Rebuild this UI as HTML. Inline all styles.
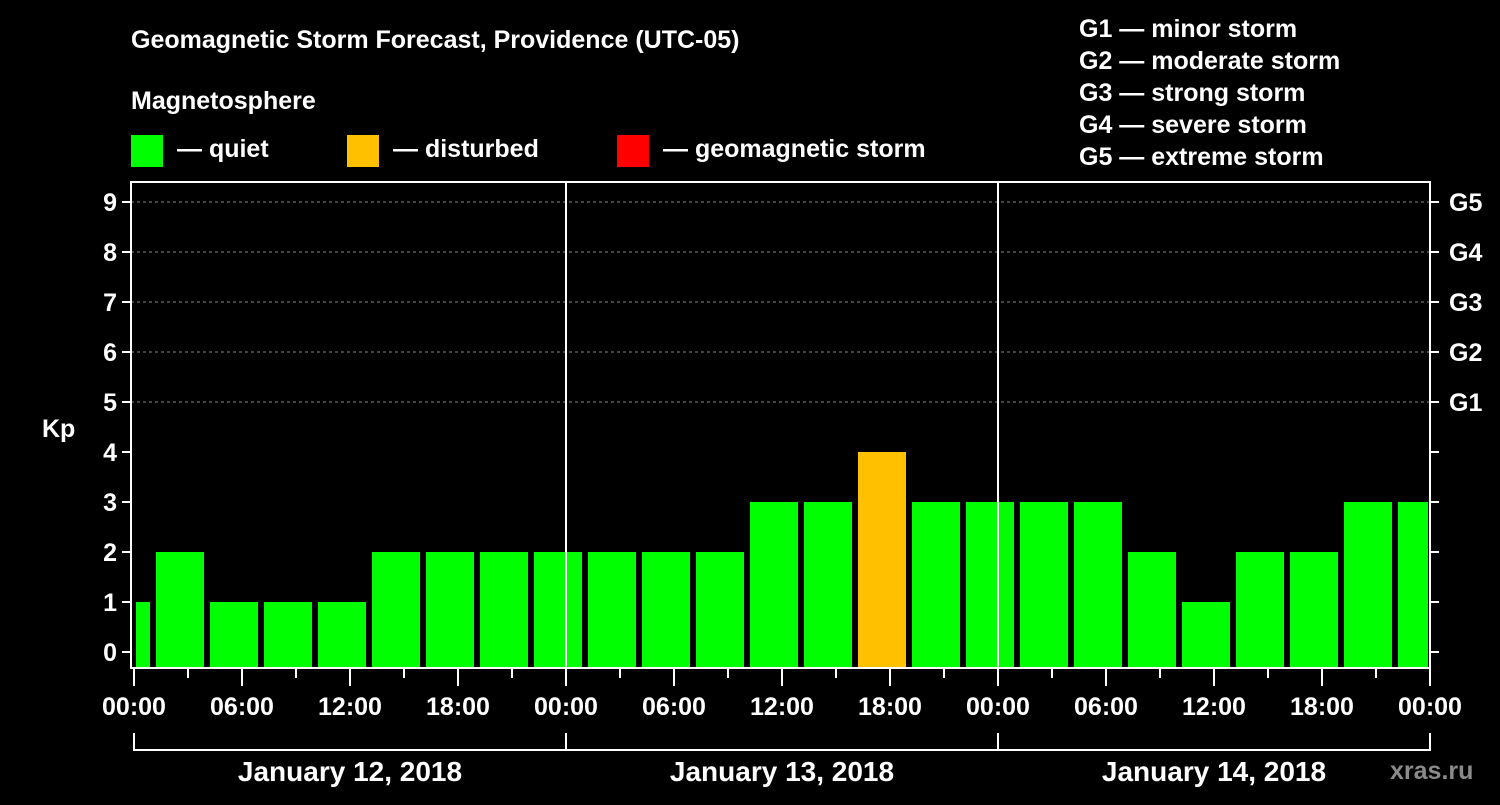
<!DOCTYPE html>
<html><head><meta charset="utf-8"><style>
html,body{margin:0;padding:0;background:#000;}
svg text{font-family:"Liberation Sans",sans-serif;font-weight:bold;fill:#fff;}
</style></head><body>
<svg width="1500" height="800" viewBox="0 0 1500 800" id="chart">
<text x="131" y="48" font-size="25">Geomagnetic Storm Forecast, Providence (UTC-05)</text>
<text x="131" y="109" font-size="25">Magnetosphere</text>
<rect x="131" y="135" width="32" height="32" fill="#00ff00"/>
<text x="177" y="157" font-size="25">— quiet</text>
<rect x="347" y="135" width="32" height="32" fill="#ffc000"/>
<text x="393" y="157" font-size="25">— disturbed</text>
<rect x="617" y="135" width="32" height="32" fill="#ff0000"/>
<text x="663" y="157" font-size="25">— geomagnetic storm</text>
<g font-size="25">
<text x="1079" y="37">G1 — minor storm</text>
<text x="1079" y="69">G2 — moderate storm</text>
<text x="1079" y="101">G3 — strong storm</text>
<text x="1079" y="133">G4 — severe storm</text>
<text x="1079" y="165">G5 — extreme storm</text>
</g>
<text x="42" y="437" font-size="25">Kp</text>
<text x="1390" y="779" font-size="25" fill="#888" style="fill:#8a8a8a">xras.ru</text>
<g id="grid"></g><g id="bars"></g><g id="axes"></g>
</svg>
<script>
const kpValues=[1,2,1,1,1,2,2,2,2,2,2,2,3,3,4,3,3,3,3,2,1,2,2,3,3];
const yTicks=[0,1,2,3,4,5,6,7,8,9];
const gLabels=["G1","G2","G3","G4","G5"];
const gLevels=[5,6,7,8,9];
const xTickLabels=["00:00","06:00","12:00","18:00","00:00","06:00","12:00","18:00","00:00","06:00","12:00","18:00","00:00"];
const dayLabels=["January 12, 2018","January 13, 2018","January 14, 2018"];
const firstBarStartHour=-2; // local start of first 3h interval
const NS="http://www.w3.org/2000/svg";
const L=131,R=1430,T=182,B=668,t0=134,pxH=18;
const y=v=>652-50*v;
const x=h=>t0+h*pxH;
function mk(tag,attrs,parent){const e=document.createElementNS(NS,tag);for(const k in attrs)e.setAttribute(k,attrs[k]);document.getElementById(parent).appendChild(e);return e;}
// grid
gLevels.forEach(v=>{const l=mk('line',{x1:L,x2:R,y1:y(v),y2:y(v),stroke:'#888','stroke-dasharray':'3,3','stroke-width':1},'grid');

});
// bars
kpValues.forEach((v,i)=>{const s=firstBarStartHour+3*i;let x1=x(s)+4,x2=x(s+3)-2;x1=Math.max(x1,t0+2);x2=Math.min(x2,R-2);
const c=v>=5?'#ff0000':(v>=4?'#ffc000':'#00ff00');
const r=mk('rect',{x:x1,y:y(v),width:x2-x1,height:B-y(v),fill:c},'bars');

});
// frame
const f=mk('rect',{x:L,y:T,width:R-L,height:B-T,fill:'none',stroke:'#fff','stroke-width':2},'axes');


[1,2].forEach(d=>{const l=mk('line',{x1:x(24*d),x2:x(24*d),y1:T,y2:B,stroke:'#fff','stroke-width':2},'axes');

});
yTicks.forEach(v=>{mk('line',{x1:L-9,x2:L,y1:y(v),y2:y(v),stroke:'#fff','stroke-width':2},'axes');
mk('line',{x1:R,x2:R+9,y1:y(v),y2:y(v),stroke:'#fff','stroke-width':2},'axes');
const t=mk('text',{x:L-14,y:y(v)+9,'font-size':25,'text-anchor':'end'},'axes');t.textContent=v;

});
gLabels.forEach((g,i)=>{const t=mk('text',{x:R+19,y:y(gLevels[i])+9,'font-size':25},'axes');t.textContent=g;

});
for(let h=0;h<=72;h+=3){const maj=h%6===0;mk('line',{x1:x(h),x2:x(h),y1:B,y2:maj?686:678,stroke:'#fff','stroke-width':2},'axes');}
xTickLabels.forEach((s,i)=>{const t=mk('text',{x:x(6*i*1),y:715,'font-size':25,'text-anchor':'middle'},'axes');t.textContent=s;
t.setAttribute('x',x(6*i));

});
// fix: labels every 6h? labels are every 6h: 13 labels over 72h
xTickLabels.forEach((s,i)=>{});
mk('line',{x1:x(0),x2:x(72),y1:750,y2:750,stroke:'#fff','stroke-width':2},'axes');
[0,24,48,72].forEach(h=>mk('line',{x1:x(h),x2:x(h),y1:733,y2:751,stroke:'#fff','stroke-width':2},'axes'));
dayLabels.forEach((s,i)=>{const t=mk('text',{x:x(24*i+12),y:781,'font-size':28,'text-anchor':'middle'},'axes');t.textContent=s;

});
</script>
</body></html>
